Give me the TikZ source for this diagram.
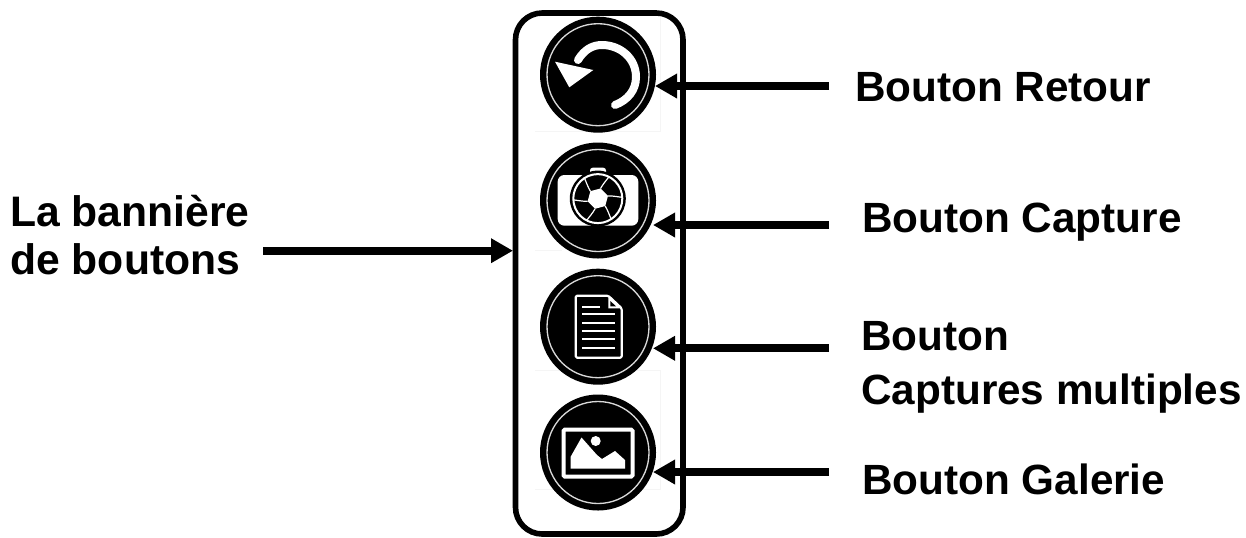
\documentclass[tikz,border=0pt]{standalone}
\usepackage{fontspec}
\usetikzlibrary{arrows.meta}
\setmainfont{Liberation Sans}
\begin{document}
\begin{tikzpicture}[x=0.75pt,y=-0.75pt,
  label/.style={font=\fontsize{31.7pt}{#1}\selectfont\bfseries,anchor=west,inner sep=0pt,align=left},
  label/.default=38pt,
  leftlabel/.style={font=\fontsize{32pt}{36pt}\selectfont\bfseries,anchor=west,inner sep=0pt,align=left},
  btn/.style={circle,fill=black,minimum size=87pt,inner sep=0pt},
  ring/.style={draw=white!85!black,line width=1pt},
  lead/.style={line width=6pt,draw=black,-{Triangle[length=16.5pt,width=17.5pt]}},
  wl/.style={draw=white,line width=1.5pt},
  faint/.style={draw=black!4,line width=0.5pt}]
\useasboundingbox (0,0) rectangle (1246,537);
\draw[faint] (660,17) -- (660,131) -- (535,131);
\draw[faint] (535,250) -- (562,250);
\draw[faint] (535,370) -- (660,370) -- (660,489) -- (535,489);
\draw[line width=4.2pt,rounded corners=20pt] (515.5,13) rectangle (683,534);
\node[btn] (btnR) at (598,74.7) {};
\node[btn] (btnC) at (598,200.5) {};
\node[btn] (btnM) at (598,326.7) {};
\node[btn] (btnG) at (598,452.5) {};
\foreach \n in {btnR,btnC,btnM,btnG} \draw[ring] (\n) circle (51);
% back
\draw[white,line width=6pt,line cap=round] (615,105) .. controls (628,100) and (636,90) .. (636,77) .. controls (636,58) and (620,45) .. (602,45) .. controls (592,45) and (584,50) .. (578,60);
\fill[white] (555,61.7) -- (593.3,70) -- (569.3,87.3) -- cycle;
% camera
\fill[white,rounded corners=2pt] (590,167.7) rectangle (606,176);
\fill[white,rounded corners=5pt] (557.7,175) rectangle (638.3,225.7);
\begin{scope}[shift={(597.8,198.6)}]
 \fill[black] (0,0) circle (28);
 \draw[white,line width=1.5pt] (0,0) circle (24.5);
 \fill[white] (-75:10.5) -- (-15:10.5) -- (45:10.5) -- (105:10.5) -- (165:10.5) -- (225:10.5) -- cycle;
 \foreach \a in {-75,-15,45,105,165,225}
  \draw[white,line width=0.9pt] (\a:10.5) .. controls (\a+5:16) and (\a+10:20) .. (\a+12:24.5);
\end{scope}
% document
\draw[white,line width=1.6pt,line join=round,rounded corners=1pt] (575.7,295.7) -- (608.3,295.7) -- (621.7,308.3) -- (621.7,357.7) -- (575.7,357.7) -- cycle;
\fill[white] (608.3,295.7) -- (608.3,308.3) -- (621.7,308.3) -- cycle;
\fill[black] (610.3,301) -- (610.3,306.3) -- (616,306.3) -- cycle;
\draw[wl] (582,306.7) -- (600,306.7);
\foreach \y in {314.3,322.7,331,339.3,347.7} \draw[wl] (582,\y) -- (615,\y);
% picture
\draw[white,line width=3pt,rounded corners=1pt] (563.5,429.5) rectangle (632.5,476.5);
\fill[white] (570.5,468.5) -- (570.5,457) -- (581.5,437.5) -- (597,455) -- (602,459) -- (615,451) -- (625,460) -- (625,468.5) -- cycle;
\fill[white] (595.7,441) circle (5);
% labels
\node[label] (lblR) at (855,87) {Bouton Retour};
\node[label] (lblC) at (862,222) {Bouton Capture};
\node[label=40.5pt] (lblM) at (861,367.5) {Bouton\\Captures multiples};
\node[label] (lblG) at (862,479.5) {Bouton Galerie};
\node[leftlabel] (lblB) at (10,235) {La bannière\\de boutons};
% leads
\coordinate (sR) at (829,86);  \coordinate (tR) at (655,86);
\coordinate (sC) at (829,225); \coordinate (tC) at (653,225);
\coordinate (sM) at (829,348.3); \coordinate (tM) at (653,348.3);
\coordinate (sG) at (829,472); \coordinate (tG) at (653,472);
\coordinate (sB) at (263,250.7); \coordinate (tB) at (513,250.7);
\draw[lead] (sR) -- (tR);
\draw[lead] (sC) -- (tC);
\draw[lead] (sM) -- (tM);
\draw[lead] (sG) -- (tG);
\draw[lead] (sB) -- (tB);
\end{tikzpicture}
\end{document}
